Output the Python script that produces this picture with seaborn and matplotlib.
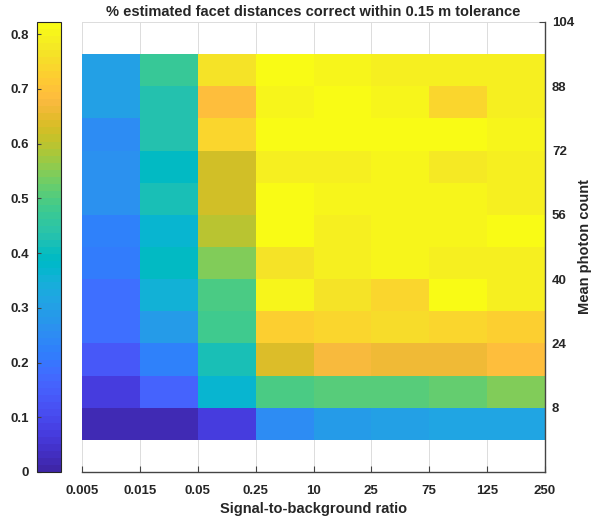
import numpy as np
import pandas as pd
import matplotlib
matplotlib.use("Agg")
import matplotlib.pyplot as plt
import seaborn as sns
from matplotlib.colors import ListedColormap

# ---------------- data ----------------
snr_labels = ["0.005", "0.015", "0.05", "0.25", "10", "25", "75", "125", "250"]
photon_bins = [0, 8, 16, 24, 32, 40, 48, 56, 64, 72, 80, 88]   # lower edge of each row
photon_ticks = [8, 24, 40, 56, 72, 88, 104]
cbar_ticks = [0, 0.1, 0.2, 0.3, 0.4, 0.5, 0.6, 0.7, 0.8]

# fraction correct, per SNR bin, rows listed from bottom (0-8) to top (88-96)
snr_0005 = [0.02, 0.07, 0.13, 0.19, 0.18, 0.21, 0.22, 0.26, 0.26, 0.25, 0.30, 0.30]
snr_0015 = [0.02, 0.16, 0.23, 0.29, 0.35, 0.39, 0.37, 0.42, 0.39, 0.43, 0.43, 0.47]
snr_005 = [0.07, 0.36, 0.42, 0.48, 0.50, 0.55, 0.60, 0.62, 0.62, 0.74, 0.69, 0.77]
snr_025 = [0.25, 0.50, 0.63, 0.72, 0.80, 0.77, 0.82, 0.82, 0.79, 0.82, 0.80, 0.82]
snr_10 = [0.29, 0.51, 0.67, 0.74, 0.77, 0.79, 0.79, 0.80, 0.79, 0.82, 0.82, 0.80]
snr_25 = [0.30, 0.51, 0.66, 0.75, 0.74, 0.80, 0.80, 0.80, 0.80, 0.82, 0.80, 0.79]
snr_75 = [0.32, 0.52, 0.66, 0.74, 0.81, 0.79, 0.80, 0.80, 0.78, 0.82, 0.74, 0.79]
snr_125 = [0.32, 0.55, 0.69, 0.73, 0.79, 0.79, 0.82, 0.79, 0.79, 0.80, 0.79, 0.79]

df = pd.DataFrame(
    {
        snr_labels[0]: snr_0005,
        snr_labels[1]: snr_0015,
        snr_labels[2]: snr_005,
        snr_labels[3]: snr_025,
        snr_labels[4]: snr_10,
        snr_labels[5]: snr_25,
        snr_labels[6]: snr_75,
        snr_labels[7]: snr_125,
    },
    index=photon_bins,
)

# ---------------- parula colormap (64 levels) ----------------
parula_rgb = [
    [0.2422, 0.1504, 0.6603], [0.2504, 0.1650, 0.7076], [0.2578, 0.1818, 0.7511], [0.2647, 0.1978, 0.7952],
    [0.2706, 0.2147, 0.8364], [0.2751, 0.2342, 0.8710], [0.2783, 0.2559, 0.8991], [0.2803, 0.2782, 0.9221],
    [0.2813, 0.3006, 0.9414], [0.2810, 0.3228, 0.9579], [0.2795, 0.3447, 0.9717], [0.2760, 0.3667, 0.9829],
    [0.2699, 0.3892, 0.9906], [0.2602, 0.4123, 0.9952], [0.2440, 0.4358, 0.9988], [0.2206, 0.4603, 0.9973],
    [0.1963, 0.4847, 0.9892], [0.1834, 0.5074, 0.9798], [0.1786, 0.5289, 0.9682], [0.1764, 0.5499, 0.9520],
    [0.1687, 0.5703, 0.9359], [0.1540, 0.5902, 0.9218], [0.1460, 0.6091, 0.9079], [0.1380, 0.6276, 0.8973],
    [0.1248, 0.6459, 0.8883], [0.1113, 0.6635, 0.8763], [0.0952, 0.6798, 0.8598], [0.0689, 0.6948, 0.8394],
    [0.0297, 0.7082, 0.8163], [0.0036, 0.7203, 0.7917], [0.0067, 0.7312, 0.7660], [0.0433, 0.7411, 0.7394],
    [0.0964, 0.7500, 0.7120], [0.1408, 0.7584, 0.6842], [0.1717, 0.7670, 0.6554], [0.1938, 0.7758, 0.6251],
    [0.2161, 0.7843, 0.5923], [0.2470, 0.7918, 0.5567], [0.2906, 0.7973, 0.5188], [0.3406, 0.8008, 0.4789],
    [0.3909, 0.8029, 0.4354], [0.4456, 0.8024, 0.3909], [0.5044, 0.7993, 0.3480], [0.5616, 0.7942, 0.3045],
    [0.6174, 0.7876, 0.2612], [0.6720, 0.7793, 0.2227], [0.7242, 0.7698, 0.1910], [0.7738, 0.7598, 0.1646],
    [0.8203, 0.7498, 0.1535], [0.8634, 0.7406, 0.1596], [0.9035, 0.7330, 0.1774], [0.9393, 0.7288, 0.2100],
    [0.9728, 0.7298, 0.2394], [0.9956, 0.7434, 0.2371], [0.9970, 0.7659, 0.2199], [0.9952, 0.7893, 0.2028],
    [0.9892, 0.8136, 0.1885], [0.9786, 0.8386, 0.1766], [0.9676, 0.8639, 0.1643], [0.9610, 0.8890, 0.1537],
    [0.9597, 0.9135, 0.1423], [0.9628, 0.9373, 0.1265], [0.9691, 0.9606, 0.1064], [0.9769, 0.9839, 0.0805],
]
parula = ListedColormap(parula_rgb, name="parula")

# ---------------- figure ----------------
plt.rcParams["font.family"] = ["Liberation Sans", "DejaVu Sans"]
plt.rcParams["font.weight"] = "bold"
text_color = "#262626"

W, H = 592, 519
fig = plt.figure(figsize=(W / 100, H / 100), dpi=100)
ax = fig.add_axes([82 / W, 47 / H, 463 / W, 450 / H])
cax = fig.add_axes([37 / W, 47 / H, 24 / W, 450 / H])

sns.heatmap(
    df, ax=ax, cbar_ax=cax, cmap=parula, vmin=0, vmax=0.822,
    cbar_kws={"ticks": cbar_ticks},
)

# heatmap rows are at 0..12 in cell units (8 photons per cell); show -8..104
ax.set_xlim(0, len(snr_labels) - 1)
ax.set_ylim(-1, 13)
ax.set_xticks(np.arange(len(snr_labels)))
ax.set_xticklabels(snr_labels, rotation=0, fontsize=9.5, fontweight="bold", color=text_color)
ax.set_yticks([t / 8 for t in photon_ticks])
ax.set_yticklabels([str(t) for t in photon_ticks], rotation=0, fontsize=9.5,
                   fontweight="bold", color=text_color)
ax.yaxis.tick_right()
ax.yaxis.set_label_position("right")
ax.tick_params(axis="both", direction="in", length=4, width=0.8, color="#444444")
ax.tick_params(axis="x", bottom=True, top=False, pad=9)
ax.tick_params(axis="y", right=True, left=False, pad=5)

ax.grid(True, color="#dcdcdc", linewidth=0.7)
ax.set_axisbelow(True)
for s in ["left", "top"]:
    ax.spines[s].set_visible(False)
for s in ["bottom", "right"]:
    ax.spines[s].set_visible(True)
    ax.spines[s].set_color("#444444")
    ax.spines[s].set_linewidth(1.0)

ax.set_xlabel("Signal-to-background ratio", fontsize=10.5, fontweight="bold",
              color=text_color, labelpad=4)
ax.set_ylabel("Mean photon count", fontsize=10.5, fontweight="bold",
              color=text_color, labelpad=3)
ax.set_title("% estimated facet distances correct within 0.15 m tolerance",
             fontsize=10.5, fontweight="bold", color=text_color, pad=4)

# colorbar styling
cb = ax.collections[0].colorbar
cb.outline.set_edgecolor("#262626")
cb.outline.set_linewidth(0.8)
cax.yaxis.set_ticks_position("left")
cax.yaxis.set_label_position("left")
cax.tick_params(direction="in", length=3, width=0.8, color="#444444", pad=6,
                labelsize=9.5, labelcolor=text_color)
cax.set_yticklabels([f"{t:g}" for t in cbar_ticks], fontweight="bold")

fig.savefig("out.png", dpi=100)
